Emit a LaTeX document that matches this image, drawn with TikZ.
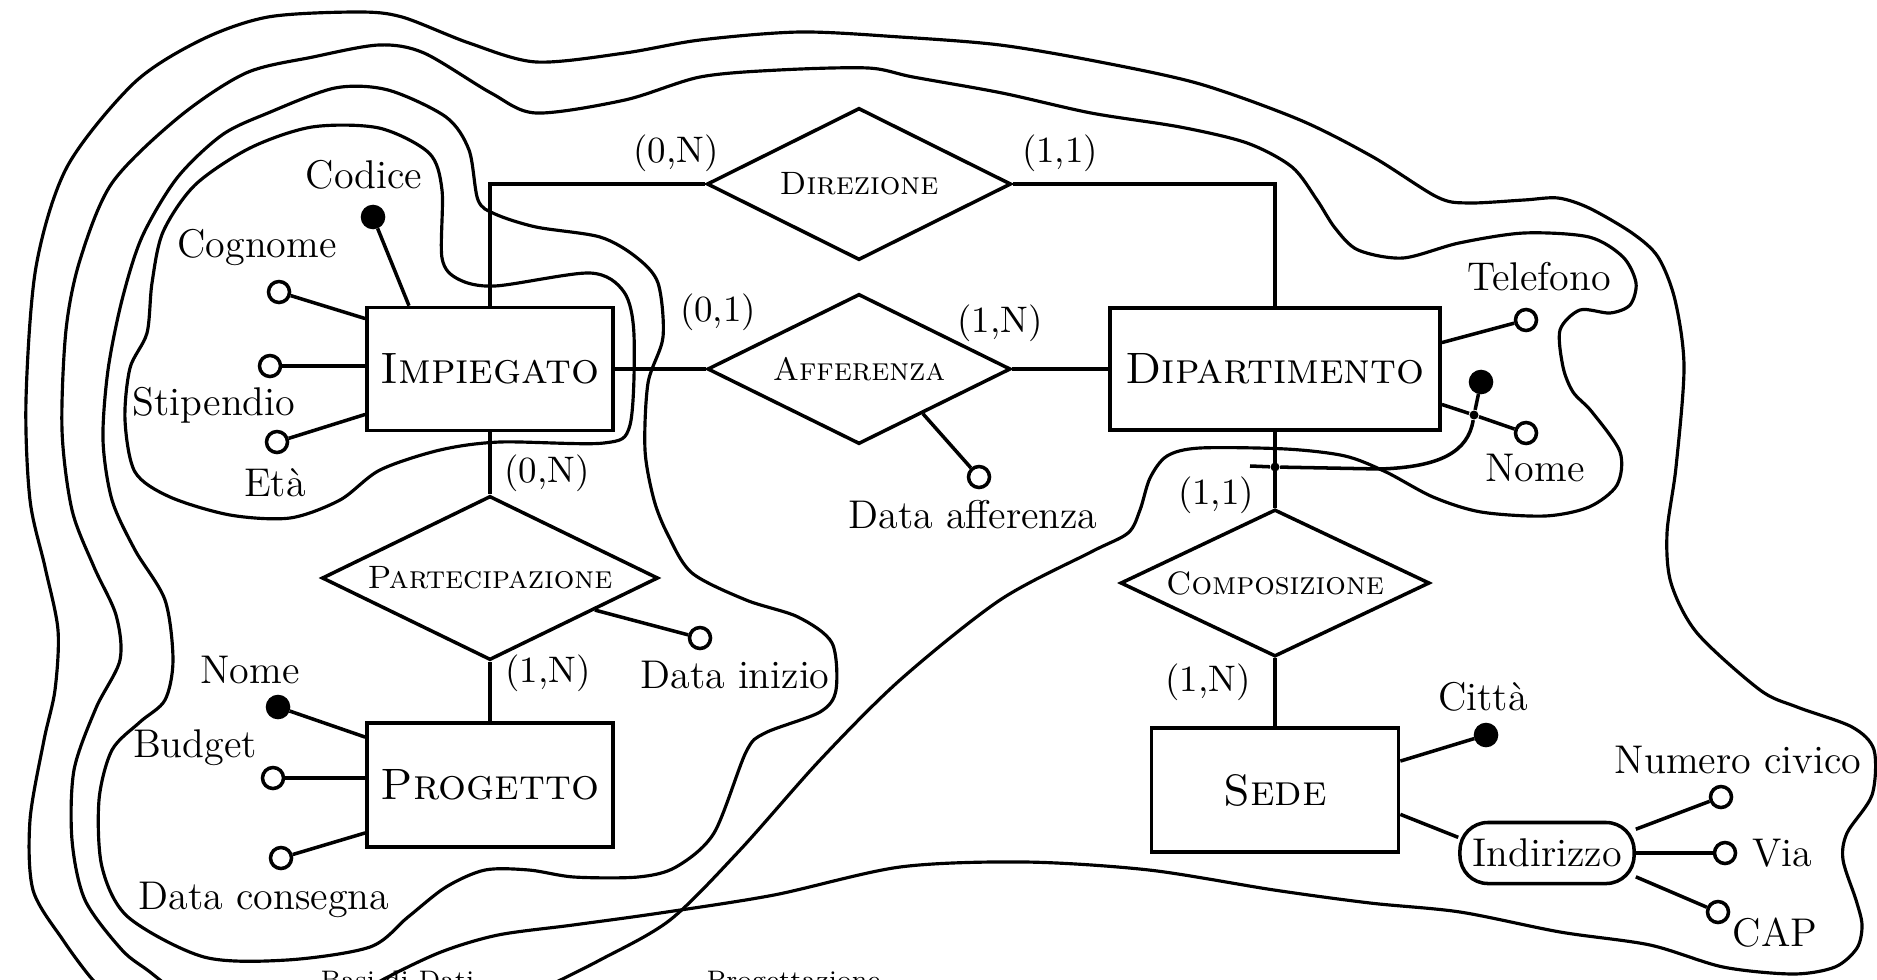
\documentclass[tikz,border=0pt]{standalone}
\usepackage{fontspec}
\usetikzlibrary{shapes.geometric}

\tikzset{
  entity/.style={draw, rectangle, line width=1pt, inner sep=2pt, font=\fontsize{12.5}{14}\selectfont\scshape},
  relation/.style={draw, diamond, aspect=2, line width=1pt, inner sep=0pt, font=\fontsize{9.2}{11}\selectfont\scshape},
  attr/.style={draw, circle, line width=1pt, fill=white, inner sep=0pt, minimum size=0.21cm},
  keyattr/.style={attr, fill=black},
  dot/.style={circle, fill=black, inner sep=0pt, minimum size=0.09cm},
  lbl/.style={inner sep=0pt, font=\fontsize{11.4}{13}\selectfont},
  card/.style={inner sep=0pt, font=\fontsize{10.5}{12}\selectfont},
  link/.style={line width=1pt},
  blob/.style={line width=0.9pt},
}

\begin{document}
\begin{tikzpicture}[x=0.01cm, y=-0.01cm]
  \useasboundingbox (0,0) rectangle (1877,979);
  \clip (0,0) rectangle (1877,979);

  % entities
  \node[entity, minimum width=2.46cm, minimum height=1.23cm] (imp) at (490,369) {Impiegato};
  \node[entity, minimum width=3.30cm, minimum height=1.22cm] (dip) at (1275,369) {Dipartimento};
  \node[entity, minimum width=2.46cm, minimum height=1.24cm] (prog) at (490,785) {Progetto};
  \node[entity, minimum width=2.47cm, minimum height=1.24cm] (sede) at (1275,790) {Sede};

  % relationships
  \node[relation, minimum width=3.04cm, minimum height=1.52cm] (dir) at (859,184) {Direzione};
  \node[relation, minimum width=3.03cm, minimum height=1.50cm] (aff) at (859,369) {Afferenza};
  \node[relation, minimum width=3.36cm, minimum height=1.64cm] (par) at (490,578) {Partecipazione};
  \node[relation, minimum width=3.09cm, minimum height=1.47cm] (comp) at (1275,583) {Composizione};

  \draw[link] (imp.north) |- (dir.west);
  \draw[link] (dir.east) -| (dip.north);
  \draw[link] (imp.east) -- (aff.west);
  \draw[link] (aff.east) -- (dip.west);
  \draw[link] (imp.south) -- (par.north);
  \draw[link] (par.south) -- (prog.north);
  \draw[link] (dip.south) -- (comp.north);
  \draw[link] (comp.south) -- (sede.north);

  % cardinalities
  \node[card] (cdir1) at (676,153) {(0,N)};
  \node[card] (cdir2) at (1060,153) {(1,1)};
  \node[card] (caff1) at (718,312) {(0,1)};
  \node[card] (caff2) at (1000,323) {(1,N)};
  \node[card] (cpar1) at (547,473) {(0,N)};
  \node[card] (cpar2) at (548,673) {(1,N)};
  \node[card] (ccomp1) at (1216,495) {(1,1)};
  \node[card] (ccomp2) at (1208,682) {(1,N)};

  % attributes of Impiegato
  \node[keyattr] (kcod) at (373,217) {};
  \node[attr] (acogn) at (279,292) {};
  \node[attr] (astip) at (270,366) {};
  \node[attr] (aeta) at (277,442) {};
  \draw[link] (kcod) -- (imp.142);
  \draw[link] (acogn) -- (imp.158);
  \draw[link] (astip) -- (astip -| imp.west);
  \draw[link] (aeta) -- (imp.200);
  \node[lbl] (lcod) at (364,175) {Codice};
  \node[lbl] (lcogn) at (257,247) {Cognome};
  \node[lbl] (lstip) at (214,405) {Stipendio};
  \node[lbl] (leta) at (275,483) {Età};

  % attributes of the relationships
  \node[attr] (adaff) at (979,477) {};
  \draw[link] (aff.-35) -- (adaff);
  \node[lbl] (ldaff) at (973,515) {Data afferenza};
  \node[attr] (adini) at (700,638) {};
  \draw[link] (par.-17) -- (adini);
  \node[lbl] (ldini) at (735,675) {Data inizio};

  % attributes of Progetto
  \node[keyattr] (kpnome) at (278,707) {};
  \node[attr] (abudg) at (273,778) {};
  \node[attr] (adcons) at (281,858) {};
  \draw[link] (kpnome) -- (prog.159);
  \draw[link] (abudg) -- (abudg -| prog.west);
  \draw[link] (adcons) -- (prog.201);
  \node[lbl] (lpnome) at (250,670) {Nome};
  \node[lbl] (lbudg) at (195,748) {Budget};
  \node[lbl] (ldcons) at (264,900) {Data consegna};

  % attributes of Dipartimento, with the external identifier
  \node[attr] (atel) at (1526,320) {};
  \draw[link] (dip.9) -- (atel);
  \node[lbl] (ltel) at (1539,277) {Telefono};
  \node[dot] (jn) at (1474,415) {};
  \node[keyattr] (kdnome) at (1481,382) {};
  \node[attr] (adnome) at (1526,433) {};
  \draw[link] (dip.-12) -- (jn) -- (adnome);
  \draw[link] (jn) -- (kdnome);
  \node[lbl] (ldnome) at (1535,468) {Nome};
  \node[dot] (jext) at (1275,467) {};
  \coordinate (idend) at (1250,466);
  \draw[link] (jn) .. controls (1468,452) and (1440,467) .. (1380,469) -- (jext) -- (idend);

  % attributes of Sede
  \node[keyattr] (kcitta) at (1486,735) {};
  \draw[link] (sede.13) -- (kcitta);
  \node[lbl] (lcitta) at (1483,697) {Città};
  \node[draw, rounded corners=0.28cm, line width=1pt, minimum width=1.74cm, minimum height=0.61cm,
        inner sep=2pt, font=\fontsize{11.4}{13}\selectfont] (ind) at (1547,853) {Indirizzo};
  \draw[link] (sede.-11) -- (ind.170);
  \node[attr] (anciv) at (1721,797) {};
  \node[attr] (avia) at (1725,853) {};
  \node[attr] (acap) at (1718,912) {};
  \draw[link] (ind.15) -- (anciv);
  \draw[link] (ind.east) -- (avia);
  \draw[link] (ind.-15) -- (acap);
  \node[lbl] (lnciv) at (1738,760) {Numero civico};
  \node[lbl] (lvia) at (1782,853) {Via};
  \node[lbl] (lcap) at (1775,933) {CAP};

  % growing regions of the schema
  \draw[blob] plot[smooth cycle, tension=0.5] coordinates {
    (312,127) (379,128) (429,153) (442,190) (442,258) (458,279) (495,286) (590,273)
    (624,292) (634,335) (630,425) (604,443) (500,442) (440,450) (380,470) (340,500)
    (290,518) (230,515) (170,497) (135,472) (125,420) (130,368) (147,333) (152,283)
    (163,232) (195,185) (250,148)};
  \draw[blob] plot[smooth cycle, tension=0.5] coordinates {
    (268,113) (335,88) (388,90) (446,117) (469,150) (478,200) (495,214) (536,227)
    (600,237) (636,257) (658,283) (663,337) (648,383) (645,450) (654,500) (668,535)
    (692,573) (746,600) (798,617) (832,643) (836,690) (820,712) (765,733) (746,752)
    (714,833) (676,867) (638,877) (574,877) (529,870) (485,870) (446,887) (408,917)
    (370,947) (287,960) (204,957) (128,917) (102,867) (99,800) (112,750) (140,722)
    (165,700) (173,660) (165,600) (135,550) (112,500) (103,440) (108,370) (122,300)
    (142,237) (177,178) (222,135)};
  \draw[blob] plot[smooth, tension=0.5] coordinates {
    (185,1000) (150,972) (122,950) (85,900) (72,840) (74,770) (96,708) (120,660)
    (116,615) (94,567) (72,510) (62,430) (66,330) (80,260) (112,183) (179,117)
    (246,73) (313,57) (379,45) (424,53) (491,93) (536,113) (625,100) (700,77)
    (779,70) (868,68) (913,77) (1002,93) (1091,113) (1180,127) (1247,143) (1292,167)
    (1317,200) (1335,228) (1358,250) (1403,258) (1459,243) (1524,233) (1589,237)
    (1623,257) (1636,283) (1630,305) (1610,313) (1580,310) (1560,330) (1563,367)
    (1573,392) (1592,412) (1620,452) (1617,485) (1589,507) (1545,516) (1481,512)
    (1433,497) (1386,472) (1345,456) (1286,449) (1200,448) (1167,456) (1150,478)
    (1140,510) (1128,533) (1091,552) (1000,600) (900,680) (820,760) (740,850)
    (670,920) (600,960) (540,990)};
  \draw[blob] plot[smooth, tension=0.5] coordinates {
    (115,1000) (92,979) (63,940) (33,890) (30,820) (44,740) (55,690) (58,630)
    (45,567) (30,500) (26,400) (36,267) (67,167) (134,83) (201,40) (268,17)
    (357,12) (402,17) (469,43) (536,62) (625,53) (700,40) (800,32) (900,37)
    (1000,45) (1100,62) (1200,84) (1300,120) (1373,157) (1437,197) (1468,203)
    (1524,200) (1558,198) (1589,208) (1632,233) (1658,257) (1675,300) (1684,367)
    (1676,467) (1667,533) (1671,583) (1697,633) (1760,690) (1797,707) (1852,727)
    (1874,750) (1872,795) (1847,833) (1843,860) (1856,900) (1862,925) (1857,948)
    (1835,967) (1793,974) (1723,967) (1650,945) (1560,932) (1460,912) (1370,903)
    (1274,890) (1149,870) (1025,862) (900,867) (774,895) (660,913) (573,925)
    (498,935) (441,952) (384,979) (350,1000)};

  % page footer, cut by the lower edge
  \node[anchor=base west, inner sep=0pt, font=\fontsize{7.2}{8}\selectfont] (foot1) at (320,988) {Basi di Dati};
  \node[anchor=base west, inner sep=0pt, font=\fontsize{7.2}{8}\selectfont] (foot2) at (706,988) {Progettazione};
\end{tikzpicture}
\end{document}
